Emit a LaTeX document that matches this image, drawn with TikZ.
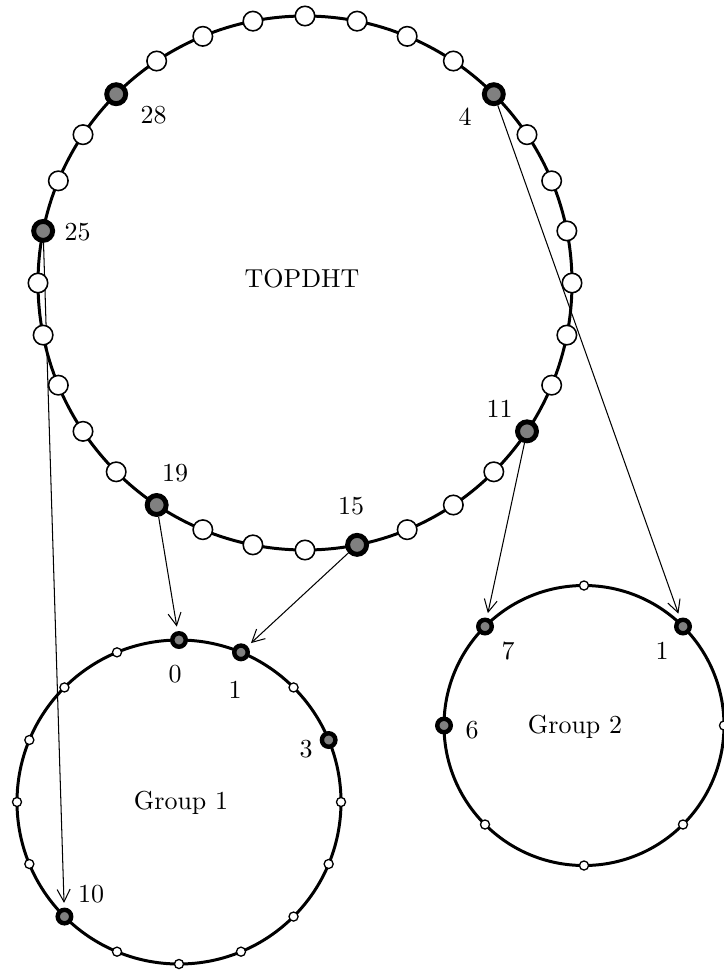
\documentclass[tikz,border=0pt]{standalone}
\usetikzlibrary{arrows.meta}
\pgfdeclarelayer{bg}
\pgfsetlayers{bg,main}
\begin{document}
\begin{tikzpicture}[x=0.385pt,y=-0.385pt,
  ring/.style={line width=1.15pt},
  wbig/.style={circle,draw,fill=white,line width=0.6pt,minimum size=7.5pt,inner sep=0pt},
  dbig/.style={circle,draw,fill=black!50,line width=1.9pt,minimum size=7.3pt,inner sep=0pt},
  wsmall/.style={circle,draw,fill=white,line width=0.5pt,minimum size=3.5pt,inner sep=0pt},
  dsmall/.style={circle,draw,fill=black!50,line width=1.7pt,minimum size=5.2pt,inner sep=0pt},
  lbl/.style={inner sep=0pt},
  arr/.style={line width=0.4pt,-{Straight Barb[length=4.8pt,width=5pt]},shorten >=1.8pt}]
\useasboundingbox (0,0) rectangle (724,970);
\clip (0,0) rectangle (724,970);
% top ring nodes
\foreach \i in {0,1,2,3,5,6,7,8,9,10,12,13,14,16,17,18,20,21,22,23,24,26,27,29,30,31}
  \node[wbig] (t\i) at ({305+267*sin(\i*11.25)},{283-267*cos(\i*11.25)}) {};
\foreach \i in {4,11,15,19,25,28}
  \node[dbig] (t\i) at ({305+267*sin(\i*11.25)},{283-267*cos(\i*11.25)}) {};
% group 1
\foreach \i in {2,4,5,6,7,8,9,11,12,13,14,15}
  \node[wsmall] (a\i) at ({179+162*sin(\i*22.5)},{802-162*cos(\i*22.5)}) {};
\foreach \i in {0,1,3,10}
  \node[dsmall] (a\i) at ({179+162*sin(\i*22.5)},{802-162*cos(\i*22.5)}) {};
% group 2
\foreach \i in {0,2,3,4,5}
  \node[wsmall] (b\i) at ({584+140*sin(\i*45)},{725.5-140*cos(\i*45)}) {};
\foreach \i in {1,6,7}
  \node[dsmall] (b\i) at ({584+140*sin(\i*45)},{725.5-140*cos(\i*45)}) {};
% labels
\node[lbl] (top) at (302,279) {TOPDHT};
\node[lbl] (l28) at (153.5,115) {28};
\node[lbl] (l4) at (465,116.5) {4};
\node[lbl] (l25) at (77.5,232.5) {25};
\node[lbl] (l11) at (499.5,408.5) {11};
\node[lbl] (l19) at (175,473) {19};
\node[lbl] (l15) at (351,506.5) {15};
\node[lbl] (g1) at (181,803) {Group 1};
\node[lbl] (la0) at (175,674) {0};
\node[lbl] (la1) at (235,690) {1};
\node[lbl] (la3) at (306,749.5) {3};
\node[lbl] (la10) at (91,894) {10};
\node[lbl] (g2) at (575,727) {Group 2};
\node[lbl] (lb7) at (508,651) {7};
\node[lbl] (lb1) at (662,651) {1};
\node[lbl] (lb6) at (472,730) {6};
\begin{pgfonlayer}{bg}
  \draw[ring] (305,283) circle[radius=267];
  \draw[ring] (179,802) circle[radius=162];
  \draw[ring] (584,725.5) circle[radius=140];
  \draw[arr] (t4) -- (b1);
  \draw[arr] (t11) -- (b7);
  \draw[arr] (t19) -- (a0);
  \draw[arr] (t15) -- (a1);
  \draw[arr] (t25) -- (a10);
\end{pgfonlayer}
\end{tikzpicture}
\end{document}
